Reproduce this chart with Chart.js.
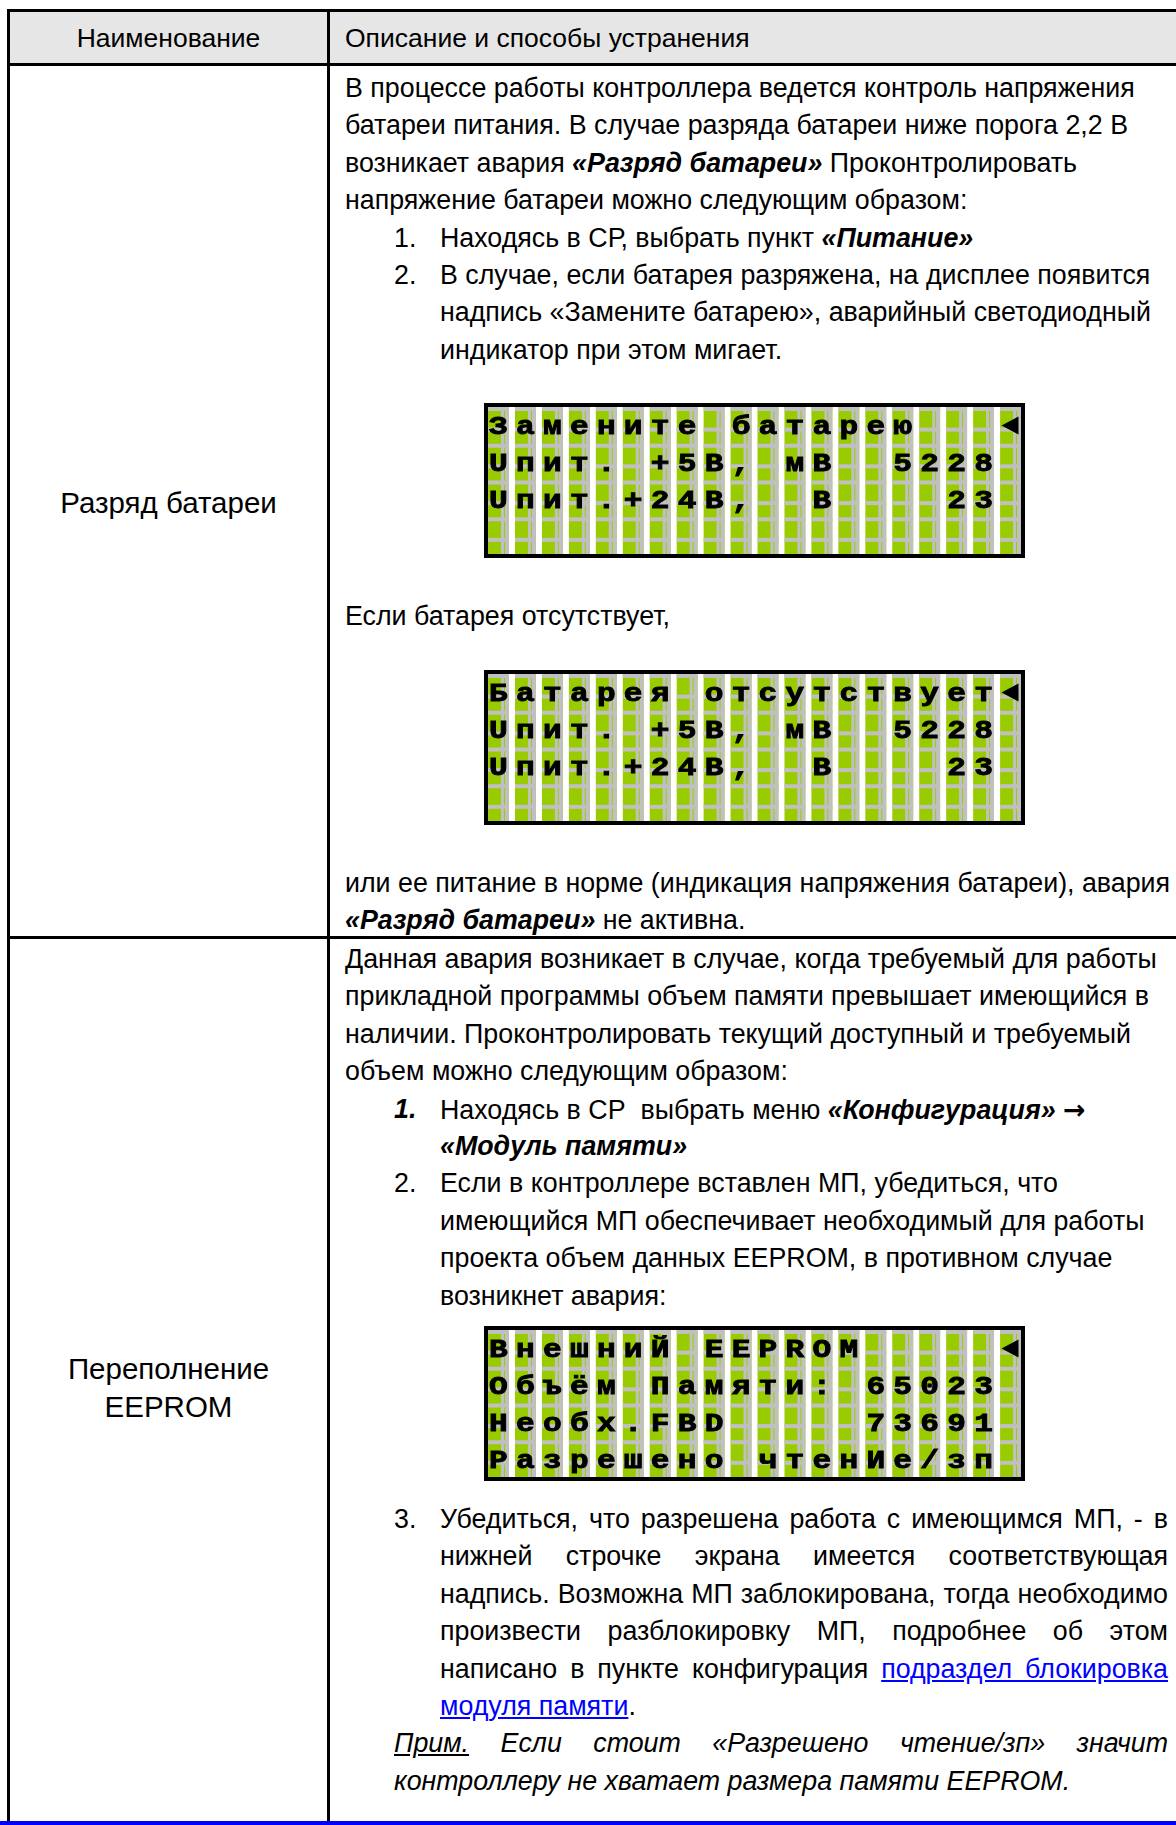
<!DOCTYPE html>
<html lang="ru">
<head>
<meta charset="utf-8">
<title>Разряд батареи / Переполнение EEPROM</title>
<script src="https://cdn.jsdelivr.net/npm/chart.js@4.4.1/dist/chart.umd.min.js"></script>
<style>
html, body { margin: 0; padding: 0; background: #fff; overflow: hidden; }
#page {
    position: relative; width: 1176px; height: 1825px; overflow: hidden;
    font-family: "Liberation Sans", Arial, sans-serif; font-size: 26.8px; color: #000;
}
.box { position: absolute; background: #000; }
.ln { position: absolute; height: 37px; line-height: 37px; white-space: pre; }
.j { white-space: nowrap; text-align: justify; text-align-last: justify; }
.c { text-align: center; }
.lab { font-size: 29.5px; }
.hd { font-size: 26.5px; }
.bi { font-weight: bold; font-style: italic; }
.it { font-style: italic; }
.arr { font-family: "DejaVu Sans", sans-serif; font-weight: bold; font-style: normal; }
.lcd { position: absolute; left: 484px; width: 533px; height: 147px; border: 4px solid #000; overflow: hidden; background: #fff; }
.lcd canvas { position: absolute; left: -3px; top: 0; }
a { color: #0000ff; text-decoration: underline; }
</style>
</head>
<body>
<div id="page">
    <!-- header fill -->
    <div class="box" style="left:10px;top:12px;width:1166px;height:51px;background:#e6e6e6"></div>

    <!-- table rules -->
    <div class="box" style="left:7px;top:9px;width:1169px;height:3px"></div>
    <div class="box" style="left:7px;top:63px;width:1169px;height:3px"></div>
    <div class="box" style="left:7px;top:936px;width:1169px;height:3px"></div>
    <div class="box" style="left:7px;top:9px;width:3px;height:1816px"></div>
    <div class="box" style="left:327px;top:9px;width:3px;height:1816px"></div>
    <div class="box" style="left:0;top:1821px;width:1176px;height:4px;background:#0000ff"></div>

    <!-- header -->
    <div class="ln c hd" style="left:10px;width:317px;top:20px">Наименование</div>
    <div class="ln hd" style="left:345px;top:20px">Описание и способы устранения</div>

    <!-- row 1 -->
    <div class="ln c lab" style="left:10px;width:317px;top:484px">Разряд батареи</div>

    <div class="ln" style="left:345px;top:70px">В процессе работы контроллера ведется контроль напряжения</div>
    <div class="ln" style="left:345px;top:107px">батареи питания. В случае разряда батареи ниже порога 2,2 В</div>
    <div class="ln" style="left:345px;top:145px">возникает авария <span class="bi">«Разряд батареи»</span> Проконтролировать</div>
    <div class="ln" style="left:345px;top:182px">напряжение батареи можно следующим образом:</div>
    <div class="ln" style="left:394px;top:220px">1.</div>
    <div class="ln" style="left:440px;top:220px">Находясь в СР, выбрать пункт <span class="bi">«Питание»</span></div>
    <div class="ln" style="left:394px;top:257px">2.</div>
    <div class="ln" style="left:440px;top:257px">В случае, если батарея разряжена, на дисплее появится</div>
    <div class="ln" style="left:440px;top:294px">надпись «Замените батарею», аварийный светодиодный</div>
    <div class="ln" style="left:440px;top:332px">индикатор при этом мигает.</div>

    <div class="lcd" style="top:403px"><canvas id="lcd1" width="539" height="147"></canvas></div>

    <div class="ln" style="left:345px;top:598px">Если батарея отсутствует,</div>

    <div class="lcd" style="top:670px"><canvas id="lcd2" width="539" height="147"></canvas></div>

    <div class="ln" style="left:345px;top:865px">или ее питание в норме (индикация напряжения батареи), авария</div>
    <div class="ln" style="left:345px;top:902px"><span class="bi">«Разряд батареи»</span> не активна.</div>

    <!-- row 2 -->
    <div class="ln c lab" style="left:10px;width:317px;top:1350px">Переполнение</div>
    <div class="ln c lab" style="left:10px;width:317px;top:1388px">EEPROM</div>

    <div class="ln" style="left:345px;top:941px">Данная авария возникает в случае, когда требуемый для работы</div>
    <div class="ln" style="left:345px;top:978px">прикладной программы объем памяти превышает имеющийся в</div>
    <div class="ln" style="left:345px;top:1016px">наличии. Проконтролировать текущий доступный и требуемый</div>
    <div class="ln" style="left:345px;top:1053px">объем можно следующим образом:</div>
    <div class="ln bi" style="left:394px;top:1091px">1.</div>
    <div class="ln" style="left:440px;top:1091px">Находясь в СР  выбрать меню <span class="bi">«Конфигурация» </span><span class="arr">→</span></div>
    <div class="ln bi" style="left:440px;top:1128px">«Модуль памяти»</div>
    <div class="ln" style="left:394px;top:1165px">2.</div>
    <div class="ln" style="left:440px;top:1165px">Если в контроллере вставлен МП, убедиться, что</div>
    <div class="ln" style="left:440px;top:1203px">имеющийся МП обеспечивает необходимый для работы</div>
    <div class="ln" style="left:440px;top:1240px">проекта объем данных EEPROM, в противном случае</div>
    <div class="ln" style="left:440px;top:1278px">возникнет авария:</div>

    <div class="lcd" style="top:1326px"><canvas id="lcd3" width="539" height="147"></canvas></div>

    <div class="ln" style="left:394px;top:1501px">3.</div>
    <div class="ln j" style="left:440px;width:728px;top:1501px">Убедиться, что разрешена работа с имеющимся МП, - в</div>
    <div class="ln j" style="left:440px;width:728px;top:1538px">нижней строчке экрана имеется соответствующая</div>
    <div class="ln j" style="left:440px;width:728px;top:1576px">надпись. Возможна МП заблокирована, тогда необходимо</div>
    <div class="ln j" style="left:440px;width:728px;top:1613px">произвести разблокировку МП, подробнее об этом</div>
    <div class="ln j" style="left:440px;width:728px;top:1651px">написано в пункте конфигурация <a>подраздел блокировка</a></div>
    <div class="ln" style="left:440px;top:1688px"><a>модуля памяти</a>.</div>
    <div class="ln j it" style="left:394px;width:774px;top:1725px"><u>Прим.</u> Если стоит «Разрешено чтение/зп» значит</div>
    <div class="ln it" style="left:394px;top:1763px">контроллеру не хватает размера памяти EEPROM.</div>
</div>

<script>
// LCD 20x4: columns, rows and the text shown on each screen
const lcdColumns = ['1','2','3','4','5','6','7','8','9','10','11','12','13','14','15','16','17','18','19','20'];
const lcdRows = [0, 1, 2, 3];
const cellSpan = [4,4,4,4,4,4,4,4,4,4,4,4,4,4,4,4,4,4,4,4];

const lcdReplace = [
    'Замените батарею   ◄',
    'Uпит. +5В, мВ  5228 ',
    'Uпит.+24В,  В    23 ',
    '                    '
];
const lcdMissing = [
    'Батарея отсутствует◄',
    'Uпит. +5В, мВ  5228 ',
    'Uпит.+24В,  В    23 ',
    '                    '
];
const lcdEeprom = [
    'ВнешниЙ EEPROM     ◄',
    'Объём Памяти: 65023 ',
    'Необх.FBD     73691 ',
    'Разрешено чтенИе/зп '
];

const lcdGreen = '#99cc00';
const lcdGrey = '#c0c0c0';

const lcdPlugin = {
    id: 'lcdText',
    afterDatasetsDraw(chart, args, opts) {
        const ctx = chart.ctx;
        const xs = chart.scales.x, ys = chart.scales.y;
        const bars = chart.getDatasetMeta(0).data;
        ctx.save();
        ctx.fillStyle = lcdGrey;
        bars.forEach(bar => {
            const left = bar.x - bar.width / 2;
            const w = bar.width;
            const top = Math.min(bar.y, bar.base);
            const h = Math.abs(bar.base - bar.y);
            ctx.fillRect(left + w * 0.62, top, 3, h);
            ctx.fillRect(left + w - 4, top, 4, h);
            lcdRows.forEach(r => {
                const ry = ys.getPixelForValue(r);
                const rh = ys.getPixelForValue(r + 1) - ry;
                ctx.fillRect(left, ry, w, 4);
                ctx.fillRect(left, ry + rh * 0.56, w, 4);
            });
        });

        ctx.fillStyle = '#000';
        ctx.strokeStyle = '#000';
        ctx.lineWidth = 0.9;
        ctx.font = 'bold 26px "Liberation Mono", "DejaVu Sans Mono", monospace';
        ctx.textAlign = 'center';
        ctx.textBaseline = 'alphabetic';
        lcdRows.forEach(r => {
            const line = opts.lines[r];
            const cy = ys.getPixelForValue(r + 0.5);
            [...line].forEach((ch, c) => {
                if (ch === ' ') return;
                const cx = xs.getPixelForValue(c);
                if (ch === '◄') {
                    ctx.beginPath();
                    ctx.moveTo(cx + 8, cy - 9);
                    ctx.lineTo(cx + 8, cy + 9);
                    ctx.lineTo(cx - 9, cy);
                    ctx.closePath();
                    ctx.fill();
                } else {
                    ctx.save();
                    ctx.translate(cx, cy + 9);
                    ctx.scale(1.2, 1);
                    ctx.fillText(ch, 0, 0);
                    ctx.strokeText(ch, 0, 0);
                    ctx.restore();
                }
            });
        });
        ctx.restore();
    }
};

function drawLcd(id, lines) {
    new Chart(document.getElementById(id), {
        type: 'bar',
        data: {
            labels: lcdColumns,
            datasets: [{
                data: cellSpan,
                backgroundColor: lcdGreen,
                borderWidth: 0,
                barPercentage: 0.775,
                categoryPercentage: 1
            }]
        },
        options: {
            responsive: false,
            animation: false,
            devicePixelRatio: 1,
            layout: { padding: 0 },
            events: [],
            plugins: {
                legend: { display: false },
                tooltip: { enabled: false },
                lcdText: { lines: lines }
            },
            scales: {
                x: { display: false },
                y: { display: false, min: 0, max: 4, reverse: true }
            }
        },
        plugins: [lcdPlugin]
    });
}

drawLcd('lcd1', lcdReplace);
drawLcd('lcd2', lcdMissing);
drawLcd('lcd3', lcdEeprom);
</script>
</body>
</html>
